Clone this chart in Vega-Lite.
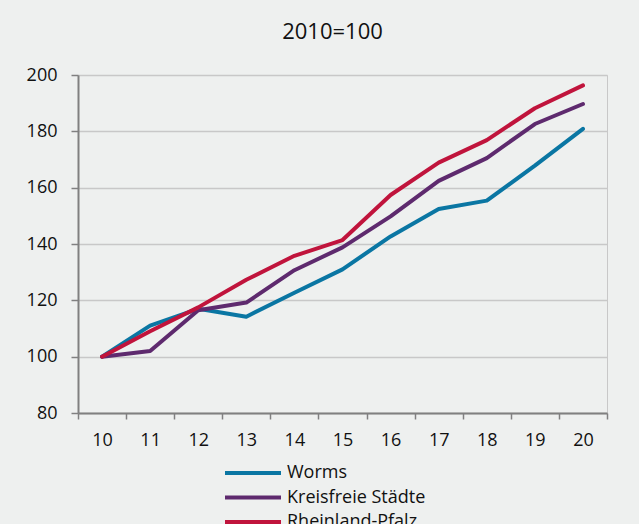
{
  "$schema": "https://vega.github.io/schema/vega-lite/v6.json",
  "width": 529,
  "height": 338,
  "autosize": "none",
  "padding": {"left": 78, "top": 75, "right": 32, "bottom": 111},
  "background": "#eef0ef",
  "title": {
    "text": "2010=100",
    "font": "Open Sans",
    "fontSize": 22,
    "fontWeight": "normal",
    "color": "#111111",
    "anchor": "middle",
    "offset": 22,
    "dx": -10
  },
  "config": {
    "font": "Open Sans",
    "view": {"stroke": "#c8c8c8", "strokeWidth": 1}
  },
  "data": {
    "values": [
      {"year": "10", "series": "Worms", "value": 100},
      {"year": "11", "series": "Worms", "value": 111},
      {"year": "12", "series": "Worms", "value": 117},
      {"year": "13", "series": "Worms", "value": 114.2},
      {"year": "14", "series": "Worms", "value": 122.7},
      {"year": "15", "series": "Worms", "value": 131},
      {"year": "16", "series": "Worms", "value": 142.7},
      {"year": "17", "series": "Worms", "value": 152.4},
      {"year": "18", "series": "Worms", "value": 155.4},
      {"year": "19", "series": "Worms", "value": 167.8},
      {"year": "20", "series": "Worms", "value": 180.9},
      {"year": "10", "series": "Kreisfreie Städte", "value": 100},
      {"year": "11", "series": "Kreisfreie Städte", "value": 102},
      {"year": "12", "series": "Kreisfreie Städte", "value": 116.5},
      {"year": "13", "series": "Kreisfreie Städte", "value": 119.2},
      {"year": "14", "series": "Kreisfreie Städte", "value": 130.7},
      {"year": "15", "series": "Kreisfreie Städte", "value": 138.8},
      {"year": "16", "series": "Kreisfreie Städte", "value": 149.8},
      {"year": "17", "series": "Kreisfreie Städte", "value": 162.4},
      {"year": "18", "series": "Kreisfreie Städte", "value": 170.5},
      {"year": "19", "series": "Kreisfreie Städte", "value": 182.6},
      {"year": "20", "series": "Kreisfreie Städte", "value": 189.7},
      {"year": "10", "series": "Rheinland-Pfalz", "value": 100},
      {"year": "11", "series": "Rheinland-Pfalz", "value": 109},
      {"year": "12", "series": "Rheinland-Pfalz", "value": 117.5},
      {"year": "13", "series": "Rheinland-Pfalz", "value": 127.3},
      {"year": "14", "series": "Rheinland-Pfalz", "value": 135.8},
      {"year": "15", "series": "Rheinland-Pfalz", "value": 141.4},
      {"year": "16", "series": "Rheinland-Pfalz", "value": 157.4},
      {"year": "17", "series": "Rheinland-Pfalz", "value": 168.9},
      {"year": "18", "series": "Rheinland-Pfalz", "value": 176.9},
      {"year": "19", "series": "Rheinland-Pfalz", "value": 188.2},
      {"year": "20", "series": "Rheinland-Pfalz", "value": 196.3}
    ]
  },
  "mark": {"type": "line", "strokeWidth": 4, "strokeCap": "round", "strokeJoin": "round"},
  "encoding": {
    "x": {
      "field": "year",
      "type": "ordinal",
      "title": null,
      "scale": {"type": "band", "paddingInner": 0, "paddingOuter": 0},
      "axis": {
        "labelAngle": 0,
        "labelFontSize": 18,
        "labelColor": "#111111",
        "labelPadding": 12,
        "tickBand": "extent",
        "tickSize": 6,
        "tickColor": "#808080",
        "tickWidth": 1.5,
        "domainColor": "#808080",
        "domainWidth": 2,
        "grid": false
      }
    },
    "y": {
      "field": "value",
      "type": "quantitative",
      "title": null,
      "scale": {"domain": [80, 200], "nice": false, "zero": false},
      "axis": {
        "values": [80, 100, 120, 140, 160, 180, 200],
        "labelFontSize": 18,
        "labelColor": "#111111",
        "labelPadding": 14,
        "tickSize": 7,
        "tickColor": "#808080",
        "tickWidth": 1.5,
        "domainColor": "#808080",
        "domainWidth": 2,
        "gridColor": "#c8c8c8",
        "gridWidth": 1.5
      }
    },
    "color": {
      "field": "series",
      "type": "nominal",
      "sort": null,
      "scale": {
        "domain": ["Worms", "Kreisfreie Städte", "Rheinland-Pfalz"],
        "range": ["#0a76a3", "#5e2a6e", "#c0143c"]
      },
      "legend": {
        "title": null,
        "orient": "none",
        "legendX": 166,
        "legendY": 389,
        "padding": 0,
        "direction": "vertical",
        "symbolType": "M-4,0H4",
        "symbolSize": 196,
        "symbolStrokeWidth": 4,
        "labelFontSize": 18,
        "labelColor": "#111111",
        "labelOffset": 25,
        "rowPadding": 6.5
      }
    }
  }
}
